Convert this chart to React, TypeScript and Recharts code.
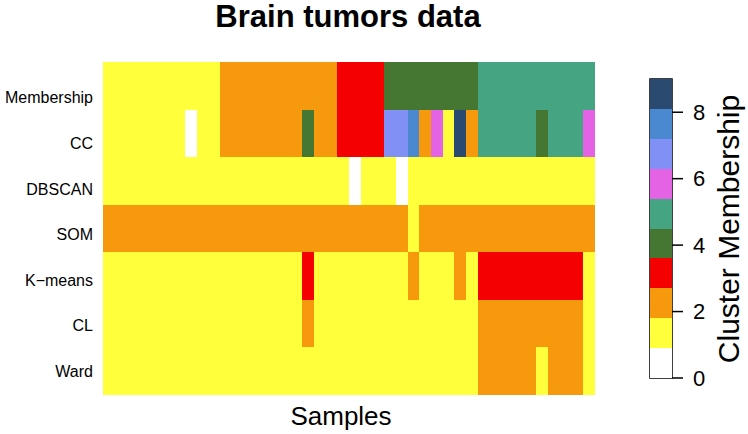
import { Bar, BarChart, Cell, ReferenceArea, XAxis, YAxis } from 'recharts';

// rows of the heatmap, top to bottom
const methods = ['Membership', 'CC', 'DBSCAN', 'SOM', 'K\u2212means', 'CL', 'Ward'];

// cluster id per sample (42 samples), 0 = unassigned
const membership = [1, 1, 1, 1, 1, 1, 1, 1, 1, 1, 2, 2, 2, 2, 2, 2, 2, 2, 2, 2, 3, 3, 3, 3, 4, 4, 4, 4, 4, 4, 4, 4, 5, 5, 5, 5, 5, 5, 5, 5, 5, 5];
const cc = [1, 1, 1, 1, 1, 1, 1, 0, 1, 1, 2, 2, 2, 2, 2, 2, 2, 4, 2, 2, 3, 3, 3, 3, 7, 7, 8, 2, 6, 1, 9, 2, 5, 5, 5, 5, 5, 4, 5, 5, 5, 6];
const dbscan = [1, 1, 1, 1, 1, 1, 1, 1, 1, 1, 1, 1, 1, 1, 1, 1, 1, 1, 1, 1, 1, 0, 1, 1, 1, 0, 1, 1, 1, 1, 1, 1, 1, 1, 1, 1, 1, 1, 1, 1, 1, 1];
const som = [2, 2, 2, 2, 2, 2, 2, 2, 2, 2, 2, 2, 2, 2, 2, 2, 2, 2, 2, 2, 2, 2, 2, 2, 2, 2, 1, 2, 2, 2, 2, 2, 2, 2, 2, 2, 2, 2, 2, 2, 2, 2];
const kmeans = [1, 1, 1, 1, 1, 1, 1, 1, 1, 1, 1, 1, 1, 1, 1, 1, 1, 3, 1, 1, 1, 1, 1, 1, 1, 1, 2, 1, 1, 1, 2, 1, 3, 3, 3, 3, 3, 3, 3, 3, 3, 1];
const cl = [1, 1, 1, 1, 1, 1, 1, 1, 1, 1, 1, 1, 1, 1, 1, 1, 1, 2, 1, 1, 1, 1, 1, 1, 1, 1, 1, 1, 1, 1, 1, 1, 2, 2, 2, 2, 2, 2, 2, 2, 2, 1];
const ward = [1, 1, 1, 1, 1, 1, 1, 1, 1, 1, 1, 1, 1, 1, 1, 1, 1, 1, 1, 1, 1, 1, 1, 1, 1, 1, 1, 1, 1, 1, 1, 1, 2, 2, 2, 2, 2, 1, 2, 2, 2, 1];

const clusterColors = ['#FFFFFF', '#FFFF3C', '#F7990D', '#F50000', '#457733', '#45A582', '#E462E4', '#8090F5', '#4A88D0', '#2B4A70'];
const legendBreaks = [0, 0.9, 1.8, 2.7, 3.6, 4.5, 5.4, 6.3, 7.2, 8.1, 9];
const legendTicks = [0, 2, 4, 6, 8];

const FONT = '"Liberation Sans", Arial, Helvetica, sans-serif';

const matrix = [membership, cc, dbscan, som, kmeans, cl, ward];
const nSamples = membership.length;
const sampleKeys = membership.map((_, j) => `s${j}`);

const rows = methods.map((method, i) => {
  const row: Record<string, string | number> = { method };
  matrix[i].forEach((_, j) => {
    row[`s${j}`] = 1;
  });
  return row;
});

const legendRow: Record<string, string | number> = { name: 'legend' };
legendBreaks.slice(1).forEach((b, k) => {
  legendRow[`b${k}`] = b - legendBreaks[k];
});
const bandKeys = legendBreaks.slice(1).map((_, k) => `b${k}`);

function RowTick(props: any) {
  const { x, y, payload } = props;
  const i = payload?.index ?? props.index ?? 0;
  // R puts the labels a little lower than the row centres at the top
  const shift = (1 - i / (methods.length - 1)) * 12;
  return (
    <text x={x} y={y + shift} dy="0.355em" textAnchor="end" fontSize={16} fill="#000" fontFamily={FONT}>
      {payload.value}
    </text>
  );
}

export default function App() {
  return (
    <div style={{ position: 'absolute', left: 0, top: 0, width: 748, height: 434, background: '#fff' }}>
      <div style={{ position: 'absolute', left: 0, top: 0 }}>
        <BarChart
          layout="vertical"
          width={748}
          height={434}
          data={rows}
          margin={{ top: 62, right: 153, bottom: 39, left: 0 }}
          barCategoryGap={0}
        >
          <XAxis type="number" domain={[0, nSamples]} allowDataOverflow hide />
          <YAxis
            type="category"
            dataKey="method"
            width={103}
            axisLine={false}
            tickLine={false}
            tickMargin={4}
            interval={0}
            tick={<RowTick />}
          />
          {sampleKeys.map((key, j) => (
            <Bar key={key} dataKey={key} stackId="cells" isAnimationActive={false}>
              {matrix.map((values, i) => (
                <Cell key={i} fill={clusterColors[values[j]]} shapeRendering="crispEdges" />
              ))}
            </Bar>
          ))}
        </BarChart>
      </div>

      <div style={{ position: 'absolute', left: 0, top: 0 }}>
        <BarChart
          width={748}
          height={434}
          data={[legendRow]}
          margin={{ top: 79, right: 26, bottom: 56, left: 650 }}
          barCategoryGap={0}
        >
          <XAxis dataKey="name" hide />
          <YAxis
            orientation="right"
            type="number"
            domain={[0, 9]}
            ticks={legendTicks}
            width={50}
            axisLine={false}
            tickSize={11}
            tickMargin={10}
            tickLine={{ stroke: '#000', strokeWidth: 1.5 }}
            tick={{ fill: '#000', fontSize: 22, fontFamily: FONT }}
          />
          {bandKeys.map((key, k) => (
            <Bar key={key} dataKey={key} stackId="bar" fill={clusterColors[k]} shapeRendering="crispEdges" isAnimationActive={false} />
          ))}
          <ReferenceArea y1={0} y2={9} fill="none" stroke="#000" strokeWidth={1.5} ifOverflow="visible" />
        </BarChart>
      </div>

      <svg width={748} height={434} style={{ position: 'absolute', left: 0, top: 0, pointerEvents: 'none' }}>
        <text x={348} y={27} textAnchor="middle" fontSize={31} fontWeight="bold" fontFamily={FONT} fill="#000">
          Brain tumors data
        </text>
        <text x={341} y={425} textAnchor="middle" fontSize={26} fontFamily={FONT} fill="#000">
          Samples
        </text>
        <text
          x={0}
          y={0}
          transform="translate(739 229) rotate(-90)"
          textAnchor="middle"
          fontSize={30}
          fontFamily={FONT}
          fill="#000"
        >
          Cluster Membership
        </text>
      </svg>
    </div>
  );
}
